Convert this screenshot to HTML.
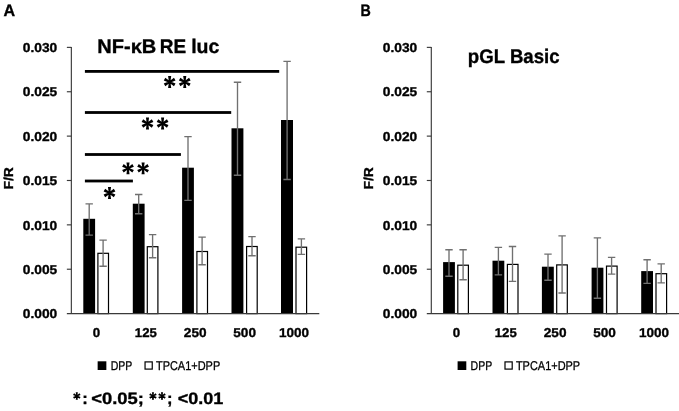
<!DOCTYPE html>
<html><head><meta charset="utf-8"><title>Figure</title>
<style>
html,body{margin:0;padding:0;background:#fff;}
svg{display:block;font-family:"Liberation Sans",sans-serif;text-rendering:geometricPrecision;will-change:transform;}
text{fill:#000;}
text[font-weight=bold]{stroke:#000;stroke-width:0.35px;}
text[font-weight=normal]{stroke:#000;stroke-width:0.3px;}
</style></head><body>
<svg width="679" height="411" viewBox="0 0 679 411">
<rect width="679" height="411" fill="#fff"/>
<rect x="83.3" y="218.8" width="11.8" height="94.8" fill="#000"/>
<rect x="97.89999999999999" y="253.29999999999998" width="10.6" height="60.3" fill="#fff" stroke="#000" stroke-width="1.2"/>
<rect x="132.8" y="203.7" width="11.8" height="109.9" fill="#000"/>
<rect x="147.29999999999998" y="246.7" width="10.6" height="66.9" fill="#fff" stroke="#000" stroke-width="1.2"/>
<rect x="182.1" y="167.7" width="11.8" height="145.9" fill="#000"/>
<rect x="196.9" y="251.5" width="10.6" height="62.1" fill="#fff" stroke="#000" stroke-width="1.2"/>
<rect x="231.5" y="128.3" width="11.9" height="185.3" fill="#000"/>
<rect x="246.6" y="246.5" width="10.6" height="67.1" fill="#fff" stroke="#000" stroke-width="1.2"/>
<rect x="281.0" y="120.0" width="12.0" height="193.6" fill="#000"/>
<rect x="296.0" y="247.2" width="10.6" height="66.4" fill="#fff" stroke="#000" stroke-width="1.2"/>
<path d="M89.2 203.9V235.1M85.5 203.9H92.9M85.5 235.1H92.9" stroke="#707070" stroke-width="1.35" fill="none"/>
<path d="M103.1 240.1V266.2M99.39999999999999 240.1H106.8M99.39999999999999 266.2H106.8" stroke="#707070" stroke-width="1.35" fill="none"/>
<path d="M138.7 194.5V213.7M135.0 194.5H142.39999999999998M135.0 213.7H142.39999999999998" stroke="#707070" stroke-width="1.35" fill="none"/>
<path d="M152.6 234.6V257.7M148.9 234.6H156.29999999999998M148.9 257.7H156.29999999999998" stroke="#707070" stroke-width="1.35" fill="none"/>
<path d="M188.0 136.6V200.3M184.3 136.6H191.7M184.3 200.3H191.7" stroke="#707070" stroke-width="1.35" fill="none"/>
<path d="M202.1 237.1V264.7M198.4 237.1H205.79999999999998M198.4 264.7H205.79999999999998" stroke="#707070" stroke-width="1.35" fill="none"/>
<path d="M237.5 82.2V175.2M233.8 82.2H241.2M233.8 175.2H241.2" stroke="#707070" stroke-width="1.35" fill="none"/>
<path d="M252.0 236.6V255.7M248.3 236.6H255.7M248.3 255.7H255.7" stroke="#707070" stroke-width="1.35" fill="none"/>
<path d="M287.1 61.4V179.5M283.40000000000003 61.4H290.8M283.40000000000003 179.5H290.8" stroke="#707070" stroke-width="1.35" fill="none"/>
<path d="M301.4 238.9V254.4M297.7 238.9H305.09999999999997M297.7 254.4H305.09999999999997" stroke="#707070" stroke-width="1.35" fill="none"/>
<path d="M71.35 46.88V313.6" stroke="#3a3a3a" stroke-width="1.15" fill="none"/>
<path d="M66.85 313.6H319.3" stroke="#3a3a3a" stroke-width="1.15" fill="none"/>
<path d="M66.85 269.23H71.35" stroke="#3a3a3a" stroke-width="1.15" fill="none"/>
<path d="M66.85 224.86H71.35" stroke="#3a3a3a" stroke-width="1.15" fill="none"/>
<path d="M66.85 180.49H71.35" stroke="#3a3a3a" stroke-width="1.15" fill="none"/>
<path d="M66.85 136.12H71.35" stroke="#3a3a3a" stroke-width="1.15" fill="none"/>
<path d="M66.85 91.75H71.35" stroke="#3a3a3a" stroke-width="1.15" fill="none"/>
<path d="M66.85 47.38H71.35" stroke="#3a3a3a" stroke-width="1.15" fill="none"/>
<text x="22.85" y="318.25" font-size="12.9" font-weight="bold" text-anchor="start" textLength="34.4" lengthAdjust="spacingAndGlyphs">0.000</text>
<text x="22.85" y="273.88" font-size="12.9" font-weight="bold" text-anchor="start" textLength="34.4" lengthAdjust="spacingAndGlyphs">0.005</text>
<text x="22.85" y="229.51" font-size="12.9" font-weight="bold" text-anchor="start" textLength="34.4" lengthAdjust="spacingAndGlyphs">0.010</text>
<text x="22.85" y="185.14" font-size="12.9" font-weight="bold" text-anchor="start" textLength="34.4" lengthAdjust="spacingAndGlyphs">0.015</text>
<text x="22.85" y="140.77" font-size="12.9" font-weight="bold" text-anchor="start" textLength="34.4" lengthAdjust="spacingAndGlyphs">0.020</text>
<text x="22.85" y="96.4" font-size="12.9" font-weight="bold" text-anchor="start" textLength="34.4" lengthAdjust="spacingAndGlyphs">0.025</text>
<text x="22.85" y="52.03" font-size="12.9" font-weight="bold" text-anchor="start" textLength="34.4" lengthAdjust="spacingAndGlyphs">0.030</text>
<text x="92.7" y="337.0" font-size="12.9" font-weight="bold" text-anchor="start" textLength="7.4" lengthAdjust="spacingAndGlyphs">0</text>
<text x="134.8" y="337.0" font-size="12.9" font-weight="bold" text-anchor="start" textLength="22.0" lengthAdjust="spacingAndGlyphs">125</text>
<text x="183.85" y="337.0" font-size="12.9" font-weight="bold" text-anchor="start" textLength="22.7" lengthAdjust="spacingAndGlyphs">250</text>
<text x="233.25" y="337.0" font-size="12.9" font-weight="bold" text-anchor="start" textLength="22.7" lengthAdjust="spacingAndGlyphs">500</text>
<text x="279.0" y="337.0" font-size="12.9" font-weight="bold" text-anchor="start" textLength="30.0" lengthAdjust="spacingAndGlyphs">1000</text>
<text transform="translate(13.05 189.5) rotate(-90)" font-size="13" font-weight="bold" textLength="22.4" lengthAdjust="spacingAndGlyphs">F/R</text>
<rect x="97.65" y="361.3" width="8.7" height="8.7" fill="#000"/>
<text x="110.65" y="369.8" font-size="12.8" font-weight="normal" text-anchor="start" textLength="21.6" lengthAdjust="spacingAndGlyphs">DPP</text>
<rect x="145.05" y="361.9" width="7.2" height="7.2" fill="#fff" stroke="#000" stroke-width="1.2"/>
<text x="155.95" y="369.8" font-size="12.8" font-weight="normal" text-anchor="start" textLength="64.3" lengthAdjust="spacingAndGlyphs">TPCA1+DPP</text>
<rect x="443.1" y="262.1" width="11.8" height="51.5" fill="#000"/>
<rect x="457.8" y="265.20000000000005" width="10.6" height="48.4" fill="#fff" stroke="#000" stroke-width="1.2"/>
<rect x="492.5" y="260.7" width="11.8" height="52.9" fill="#000"/>
<rect x="507.40000000000003" y="264.40000000000003" width="10.6" height="49.2" fill="#fff" stroke="#000" stroke-width="1.2"/>
<rect x="541.9" y="266.7" width="11.9" height="46.9" fill="#000"/>
<rect x="556.7" y="264.90000000000003" width="10.6" height="48.7" fill="#fff" stroke="#000" stroke-width="1.2"/>
<rect x="591.6" y="267.7" width="11.8" height="45.9" fill="#000"/>
<rect x="606.5" y="266.1" width="10.6" height="47.5" fill="#fff" stroke="#000" stroke-width="1.2"/>
<rect x="641.2" y="271.1" width="11.8" height="42.5" fill="#000"/>
<rect x="656.0" y="273.70000000000005" width="10.6" height="39.9" fill="#fff" stroke="#000" stroke-width="1.2"/>
<path d="M449.0 249.7V276.2M445.3 249.7H452.7M445.3 276.2H452.7" stroke="#707070" stroke-width="1.35" fill="none"/>
<path d="M463.1 249.7V279.7M459.40000000000003 249.7H466.8M459.40000000000003 279.7H466.8" stroke="#707070" stroke-width="1.35" fill="none"/>
<path d="M498.4 247.3V274.8M494.7 247.3H502.09999999999997M494.7 274.8H502.09999999999997" stroke="#707070" stroke-width="1.35" fill="none"/>
<path d="M512.5 246.5V281.4M508.8 246.5H516.2M508.8 281.4H516.2" stroke="#707070" stroke-width="1.35" fill="none"/>
<path d="M548.0 254.1V280.2M544.3 254.1H551.7M544.3 280.2H551.7" stroke="#707070" stroke-width="1.35" fill="none"/>
<path d="M562.1 235.8V293.0M558.4 235.8H565.8000000000001M558.4 293.0H565.8000000000001" stroke="#707070" stroke-width="1.35" fill="none"/>
<path d="M597.4 237.8V298.2M593.6999999999999 237.8H601.1M593.6999999999999 298.2H601.1" stroke="#707070" stroke-width="1.35" fill="none"/>
<path d="M611.6 257.3V274.1M607.9 257.3H615.3000000000001M607.9 274.1H615.3000000000001" stroke="#707070" stroke-width="1.35" fill="none"/>
<path d="M647.1 259.7V283.3M643.4 259.7H650.8000000000001M643.4 283.3H650.8000000000001" stroke="#707070" stroke-width="1.35" fill="none"/>
<path d="M661.2 263.8V282.8M657.5 263.8H664.9000000000001M657.5 282.8H664.9000000000001" stroke="#707070" stroke-width="1.35" fill="none"/>
<path d="M431.3 46.88V313.6" stroke="#3a3a3a" stroke-width="1.15" fill="none"/>
<path d="M426.8 313.6H679" stroke="#3a3a3a" stroke-width="1.15" fill="none"/>
<path d="M426.8 269.23H431.3" stroke="#3a3a3a" stroke-width="1.15" fill="none"/>
<path d="M426.8 224.86H431.3" stroke="#3a3a3a" stroke-width="1.15" fill="none"/>
<path d="M426.8 180.49H431.3" stroke="#3a3a3a" stroke-width="1.15" fill="none"/>
<path d="M426.8 136.12H431.3" stroke="#3a3a3a" stroke-width="1.15" fill="none"/>
<path d="M426.8 91.75H431.3" stroke="#3a3a3a" stroke-width="1.15" fill="none"/>
<path d="M426.8 47.38H431.3" stroke="#3a3a3a" stroke-width="1.15" fill="none"/>
<text x="382.8" y="318.25" font-size="12.9" font-weight="bold" text-anchor="start" textLength="34.4" lengthAdjust="spacingAndGlyphs">0.000</text>
<text x="382.8" y="273.88" font-size="12.9" font-weight="bold" text-anchor="start" textLength="34.4" lengthAdjust="spacingAndGlyphs">0.005</text>
<text x="382.8" y="229.51" font-size="12.9" font-weight="bold" text-anchor="start" textLength="34.4" lengthAdjust="spacingAndGlyphs">0.010</text>
<text x="382.8" y="185.14" font-size="12.9" font-weight="bold" text-anchor="start" textLength="34.4" lengthAdjust="spacingAndGlyphs">0.015</text>
<text x="382.8" y="140.77" font-size="12.9" font-weight="bold" text-anchor="start" textLength="34.4" lengthAdjust="spacingAndGlyphs">0.020</text>
<text x="382.8" y="96.4" font-size="12.9" font-weight="bold" text-anchor="start" textLength="34.4" lengthAdjust="spacingAndGlyphs">0.025</text>
<text x="382.8" y="52.03" font-size="12.9" font-weight="bold" text-anchor="start" textLength="34.4" lengthAdjust="spacingAndGlyphs">0.030</text>
<text x="452.65" y="337.0" font-size="12.9" font-weight="bold" text-anchor="start" textLength="7.4" lengthAdjust="spacingAndGlyphs">0</text>
<text x="494.75" y="337.0" font-size="12.9" font-weight="bold" text-anchor="start" textLength="22.0" lengthAdjust="spacingAndGlyphs">125</text>
<text x="543.8" y="337.0" font-size="12.9" font-weight="bold" text-anchor="start" textLength="22.7" lengthAdjust="spacingAndGlyphs">250</text>
<text x="593.2" y="337.0" font-size="12.9" font-weight="bold" text-anchor="start" textLength="22.7" lengthAdjust="spacingAndGlyphs">500</text>
<text x="638.95" y="337.0" font-size="12.9" font-weight="bold" text-anchor="start" textLength="30.0" lengthAdjust="spacingAndGlyphs">1000</text>
<text transform="translate(373.0 189.5) rotate(-90)" font-size="13" font-weight="bold" textLength="22.4" lengthAdjust="spacingAndGlyphs">F/R</text>
<rect x="457.6" y="361.3" width="8.7" height="8.7" fill="#000"/>
<text x="470.6" y="369.8" font-size="12.8" font-weight="normal" text-anchor="start" textLength="21.6" lengthAdjust="spacingAndGlyphs">DPP</text>
<rect x="505.0" y="361.9" width="7.2" height="7.2" fill="#fff" stroke="#000" stroke-width="1.2"/>
<text x="515.9" y="369.8" font-size="12.8" font-weight="normal" text-anchor="start" textLength="64.3" lengthAdjust="spacingAndGlyphs">TPCA1+DPP</text>
<text x="3.5" y="15.7" font-size="16.6" font-weight="bold" text-anchor="start" textLength="11.6" lengthAdjust="spacingAndGlyphs">A</text>
<text x="360.4" y="15.7" font-size="16.6" font-weight="bold" text-anchor="start" textLength="10.3" lengthAdjust="spacingAndGlyphs">B</text>
<text x="97.3" y="53.3" font-size="19.6" font-weight="bold" text-anchor="start" textLength="59.0" lengthAdjust="spacingAndGlyphs">NF-κB</text>
<text x="159.7" y="53.3" font-size="19.6" font-weight="bold" text-anchor="start" textLength="26.4" lengthAdjust="spacingAndGlyphs">RE</text>
<text x="191.2" y="53.3" font-size="19.6" font-weight="bold" text-anchor="start" textLength="28.2" lengthAdjust="spacingAndGlyphs">luc</text>
<text x="467.8" y="63.4" font-size="19.6" font-weight="bold" text-anchor="start" textLength="91.8" lengthAdjust="spacingAndGlyphs">pGL Basic</text>
<rect x="84.9" y="70.0" width="194.3" height="2.8" fill="#000"/>
<rect x="84.9" y="111.1" width="146.3" height="2.8" fill="#000"/>
<rect x="84.9" y="153.1" width="96.0" height="2.8" fill="#000"/>
<rect x="84.9" y="179.6" width="48.0" height="2.8" fill="#000"/>
<path d="M170.4 82.0L171.2 76.1L168.1 76.1L168.9 82.0ZM170.03 82.65L175.53 80.39L173.98 77.71L169.28 81.35ZM169.28 82.65L173.98 86.29L175.53 83.61L170.03 81.35ZM168.9 82.0L168.1 87.9L171.2 87.9L170.4 82.0ZM169.28 81.35L163.77 83.61L165.32 86.29L170.03 82.65ZM170.03 81.35L165.32 77.71L163.77 80.39L169.28 82.65Z" fill="#000"/>
<path d="M185.5 82.0L186.3 76.1L183.2 76.1L184.0 82.0ZM185.12 82.65L190.63 80.39L189.08 77.71L184.38 81.35ZM184.38 82.65L189.08 86.29L190.63 83.61L185.12 81.35ZM184.0 82.0L183.2 87.9L186.3 87.9L185.5 82.0ZM184.38 81.35L178.87 83.61L180.42 86.29L185.12 82.65ZM185.12 81.35L180.42 77.71L178.87 80.39L184.38 82.65Z" fill="#000"/>
<path d="M148.25 123.5L149.05 117.6L145.95 117.6L146.75 123.5ZM147.88 124.15L153.38 121.89L151.83 119.21L147.12 122.85ZM147.12 124.15L151.83 127.79L153.38 125.11L147.88 122.85ZM146.75 123.5L145.95 129.4L149.05 129.4L148.25 123.5ZM147.12 122.85L141.62 125.11L143.17 127.79L147.88 124.15ZM147.88 122.85L143.17 119.21L141.62 121.89L147.12 124.15Z" fill="#000"/>
<path d="M163.35 123.5L164.15 117.6L161.05 117.6L161.85 123.5ZM162.97 124.15L168.48 121.89L166.93 119.21L162.22 122.85ZM162.22 124.15L166.93 127.79L168.48 125.11L162.97 122.85ZM161.85 123.5L161.05 129.4L164.15 129.4L163.35 123.5ZM162.22 122.85L156.72 125.11L158.27 127.79L162.97 124.15ZM162.97 122.85L158.27 119.21L156.72 121.89L162.22 124.15Z" fill="#000"/>
<path d="M128.75 168.3L129.55 162.4L126.45 162.4L127.25 168.3ZM128.38 168.95L133.88 166.69L132.33 164.01L127.62 167.65ZM127.62 168.95L132.33 172.59L133.88 169.91L128.38 167.65ZM127.25 168.3L126.45 174.2L129.55 174.2L128.75 168.3ZM127.62 167.65L122.12 169.91L123.67 172.59L128.38 168.95ZM128.38 167.65L123.67 164.01L122.12 166.69L127.62 168.95Z" fill="#000"/>
<path d="M143.85 168.3L144.65 162.4L141.55 162.4L142.35 168.3ZM143.47 168.95L148.98 166.69L147.43 164.01L142.72 167.65ZM142.72 168.95L147.43 172.59L148.98 169.91L143.47 167.65ZM142.35 168.3L141.55 174.2L144.65 174.2L143.85 168.3ZM142.72 167.65L137.22 169.91L138.77 172.59L143.47 168.95ZM143.47 167.65L138.77 164.01L137.22 166.69L142.72 168.95Z" fill="#000"/>
<path d="M110.25 193.0L111.05 187.1L107.95 187.1L108.75 193.0ZM109.88 193.65L115.38 191.39L113.83 188.71L109.12 192.35ZM109.12 193.65L113.83 197.29L115.38 194.61L109.88 192.35ZM108.75 193.0L107.95 198.9L111.05 198.9L110.25 193.0ZM109.12 192.35L103.62 194.61L105.17 197.29L109.88 193.65ZM109.88 192.35L105.17 188.71L103.62 191.39L109.12 193.65Z" fill="#000"/>
<path d="M77.3 396.0L77.85 392.25L75.75 392.25L76.3 396.0ZM77.05 396.43L80.57 395.03L79.52 393.22L76.55 395.57ZM76.55 396.43L79.52 398.78L80.57 396.97L77.05 395.57ZM76.3 396.0L75.75 399.75L77.85 399.75L77.3 396.0ZM76.55 395.57L73.03 396.97L74.08 398.78L77.05 396.43ZM77.05 395.57L74.08 393.22L73.03 395.03L76.55 396.43Z" fill="#000"/>
<text x="82.2" y="404.0" font-size="16.6" font-weight="bold" text-anchor="start">:</text>
<text x="91.3" y="404.0" font-size="16.6" font-weight="bold" text-anchor="start" textLength="52.6" lengthAdjust="spacingAndGlyphs">&lt;0.05;</text>
<path d="M153.45 396.0L154.0 392.25L151.9 392.25L152.45 396.0ZM153.2 396.43L156.72 395.03L155.67 393.22L152.7 395.57ZM152.7 396.43L155.67 398.78L156.72 396.97L153.2 395.57ZM152.45 396.0L151.9 399.75L154.0 399.75L153.45 396.0ZM152.7 395.57L149.18 396.97L150.23 398.78L153.2 396.43ZM153.2 395.57L150.23 393.22L149.18 395.03L152.7 396.43Z" fill="#000"/>
<path d="M162.5 396.0L163.05 392.25L160.95 392.25L161.5 396.0ZM162.25 396.43L165.77 395.03L164.72 393.22L161.75 395.57ZM161.75 396.43L164.72 398.78L165.77 396.97L162.25 395.57ZM161.5 396.0L160.95 399.75L163.05 399.75L162.5 396.0ZM161.75 395.57L158.23 396.97L159.28 398.78L162.25 396.43ZM162.25 395.57L159.28 393.22L158.23 395.03L161.75 396.43Z" fill="#000"/>
<text x="167.0" y="404.0" font-size="16.6" font-weight="bold" text-anchor="start">;</text>
<text x="177.8" y="404.0" font-size="16.6" font-weight="bold" text-anchor="start" textLength="45.6" lengthAdjust="spacingAndGlyphs">&lt;0.01</text>
</svg>
</body></html>
